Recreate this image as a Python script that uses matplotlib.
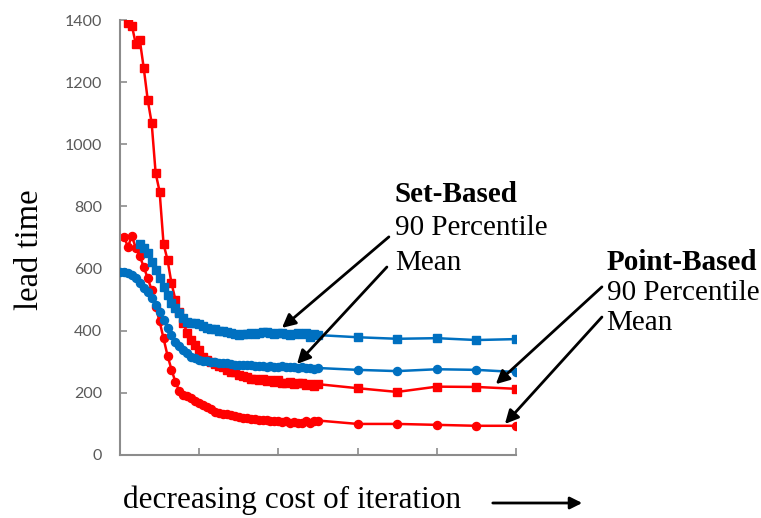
import matplotlib
matplotlib.use("Agg")
import matplotlib.pyplot as plt

# ---------------- data ----------------
sparse_x = [60, 70, 80, 90, 100]

pb90_x = list(range(2, 51)) + sparse_x
pb90_y = [1391, 1382, 1322, 1335, 1245, 1143, 1068, 907, 848, 679,
          628, 553, 499, 461, 424, 392, 370, 354, 338, 316,
          306, 298, 292, 285, 283, 274, 268, 266, 258, 255,
          252, 246, 243, 241, 244, 238, 241, 236, 240, 232,
          231, 236, 229, 231, 233, 224, 230, 222, 228,
          215, 203, 220, 219, 213]

pbmean_x = list(range(1, 51)) + sparse_x
pbmean_y = [703, 670, 705, 665, 640, 605, 569, 531, 477, 430,
            375, 320, 275, 235, 205, 193, 189, 185, 175, 166,
            160, 153, 147, 140, 135, 133, 131, 129, 126, 122,
            120, 118, 115, 117, 113, 112, 114, 110, 108, 111,
            107, 108, 104, 107, 104, 102, 108, 104, 109, 111,
            100, 100, 97, 94, 94]

sb90_x = list(range(5, 51)) + sparse_x
sb90_y = [679, 665, 649, 622, 595, 569, 542, 515, 488, 472,
          456, 440, 429, 426, 424, 422, 416, 410, 406, 404,
          400, 398, 397, 392, 388, 386, 388, 390, 392, 390,
          394, 396, 397, 393, 390, 392, 394, 388, 386, 390,
          392, 388, 392, 380, 388, 386,
          379, 374, 376, 370, 373]

sbmean_x = list(range(0, 51)) + sparse_x
sbmean_y = [590, 589, 585, 579, 569, 552, 536, 526, 504, 483,
            461, 434, 408, 386, 365, 351, 338, 327, 316, 311,
            306, 304, 302, 300, 299, 297, 296, 295, 293, 291,
            290, 291, 289, 290, 288, 287, 285, 284, 286, 283,
            284, 285, 282, 284, 283, 281, 283, 279, 281, 278, 280,
            274, 270, 276, 274, 267]

y_ticks = [0, 200, 400, 600, 800, 1000, 1200, 1400]
x_ticks = [0, 20, 40, 60, 80, 100]

RED = "#FF0000"
BLUE = "#0070C0"

# ---------------- figure ----------------
fig = plt.figure(figsize=(7.61, 5.18), dpi=100)
ax = fig.add_axes([120 / 761, 1 - 455 / 518, 396 / 761, 435 / 518])

ax.plot(pb90_x, pb90_y, color=RED, lw=1.8, marker="s", ms=5.2, zorder=2)
ax.plot(pbmean_x, pbmean_y, color=RED, lw=1.8, marker="o", ms=5.8, zorder=2)
ax.plot(sb90_x, sb90_y, color=BLUE, lw=1.8, marker="s", ms=5.2, zorder=3)
ax.plot(sbmean_x, sbmean_y, color=BLUE, lw=1.8, marker="o", ms=5.8, zorder=3)

ax.set_xlim(0, 100)
ax.set_ylim(0, 1400)
ax.set_yticks(y_ticks)
ax.set_xticks(x_ticks)
ax.set_xticklabels([])
for s in ("top", "right"):
    ax.spines[s].set_visible(False)
for s in ("left", "bottom"):
    ax.spines[s].set_color("#8c8c8c")
    ax.spines[s].set_linewidth(1.5)
ax.tick_params(axis="both", direction="in", length=5, width=1.2, color="#8c8c8c")
ax.tick_params(axis="y", pad=13, labelsize=11.5, labelcolor="#595959")
for lab in ax.get_yticklabels():
    lab.set_family(["Lato", "DejaVu Sans"])

serif = ["Liberation Serif", "DejaVu Serif"]
fig.text(30 / 761, 1 - 250 / 518, "lead time", rotation=90, ha="center", va="center",
         fontsize=23.5, family=serif)
fig.text(123 / 761, 1 - 500 / 518, "decreasing cost of iteration", ha="left", va="center",
         fontsize=22.5, family=serif)
fig.add_artist(matplotlib.patches.FancyArrowPatch(
    (490 / 761, 1 - 503 / 518), (585 / 761, 1 - 503 / 518),
    transform=fig.transFigure, arrowstyle="-|>", mutation_scale=18, lw=2, color="black"))

# annotations
txt_kw = dict(fontsize=21, family=serif, ha="left", va="baseline", clip_on=False)
ax.text(69.4, 815, "Set-Based", fontweight="bold", **txt_kw)
ax.text(69.4, 708, "90 Percentile", **txt_kw)
ax.text(69.4, 595, "Mean", **txt_kw)
ax.text(122.9, 595, "Point-Based", fontweight="bold", **txt_kw)
ax.text(122.9, 499, "90 Percentile", **txt_kw)
ax.text(122.9, 402, "Mean", **txt_kw)

arr = dict(arrowstyle="-|>", mutation_scale=20, lw=2, color="black", shrinkA=0, shrinkB=0)
ax.annotate("", xy=(40.9, 409), xytext=(67.9, 702), arrowprops=arr, annotation_clip=False)
ax.annotate("", xy=(44.7, 293), xytext=(67.4, 605), arrowprops=arr, annotation_clip=False)
ax.annotate("", xy=(94.9, 228), xytext=(121.7, 541), arrowprops=arr, annotation_clip=False)
ax.annotate("", xy=(97.2, 100), xytext=(121.7, 444), arrowprops=arr, annotation_clip=False)

fig.savefig("out.png", dpi=100)
